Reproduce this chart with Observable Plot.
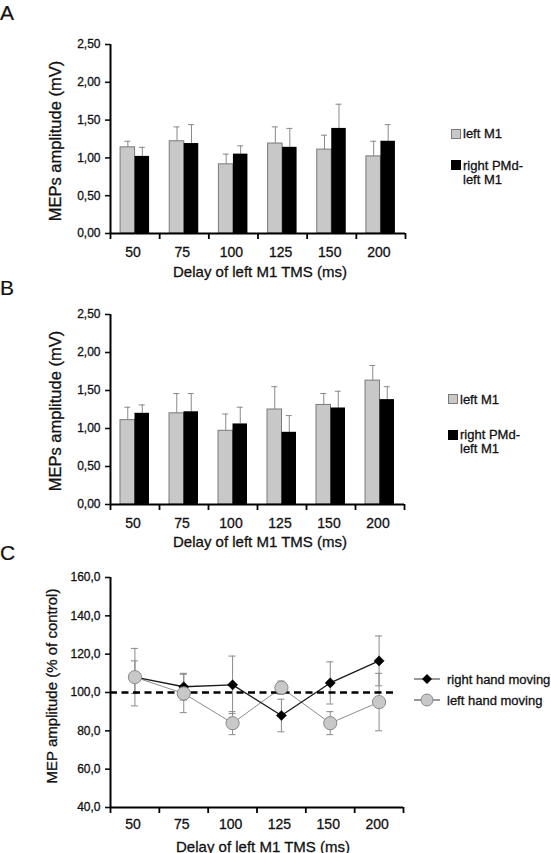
<!DOCTYPE html>
<html><head><meta charset="utf-8">
<script src="https://cdn.jsdelivr.net/npm/d3@7"></script>
<script src="https://cdn.jsdelivr.net/npm/@observablehq/plot@0.6"></script>
<style>
body{margin:0;background:#fff;font-family:"Liberation Sans",Arial,sans-serif;color:#111}
#fig{position:relative;width:551px;height:853px;overflow:hidden;background:#fff}
#fig svg.plot{position:absolute;left:0}
#fig svg.plot text{stroke:#111;stroke-width:0.3px}
.lbl{position:absolute;font-size:21px;line-height:21px;left:0;-webkit-text-stroke:0.2px #111}
.xt{position:absolute;font-size:15px;white-space:nowrap;transform:translate(-50%,-50%);-webkit-text-stroke:0.3px #111}
.yt{position:absolute;white-space:nowrap;transform:translate(-50%,-50%) rotate(-90deg);-webkit-text-stroke:0.3px #111}
.leg{position:absolute;font-size:13px;white-space:nowrap;transform:translateY(-50%);-webkit-text-stroke:0.3px #111}
.sw{position:absolute;box-sizing:border-box}
[aria-label="y-axis tick"] path,[aria-label="y-axis"] .tick line{stroke-width:1.6px}
</style></head><body><div id="fig"></div>
<script>
// ---- data ----
const delays = ["50", "75", "100", "125", "150", "200"];
const barSeries = ["left M1", "right PMd-left M1"];
const lineSeries = ["right hand moving", "left hand moving"];

// Panel A (mV)
const aLeftM1 = [1.14, 1.22, 0.915, 1.19, 1.11, 1.02];
const aLeftM1Err = [0.08, 0.19, 0.135, 0.22, 0.19, 0.20];
const aPMd = [1.02, 1.19, 1.05, 1.14, 1.39, 1.22];
const aPMdErr = [0.12, 0.25, 0.11, 0.25, 0.32, 0.22];

// Panel B (mV)
const bLeftM1 = [1.11, 1.20, 0.97, 1.25, 1.31, 1.63];
const bLeftM1Err = [0.17, 0.26, 0.22, 0.30, 0.15, 0.20];
const bPMd = [1.20, 1.22, 1.06, 0.95, 1.27, 1.38];
const bPMdErr = [0.11, 0.24, 0.22, 0.22, 0.22, 0.17];

// Panel C (% of control)
const cRight = [108, 103, 104, 88, 105, 116.5];
const cRightErr = [8.5, 7, 15, 8.5, 11, 13];
const cLeft = [108, 99.5, 84, 102.5, 84, 95];
const cLeftErr = [15, 10, 6, 3.5, 6, 15];
const cBaseline = [100];

const yTicksAB = [0, 0.5, 1, 1.5, 2, 2.5];
const yTicksC = [40, 60, 80, 100, 120, 140, 160];
const xTitle = "Delay of left M1 TMS  (ms)";
const yTitleAB = "MEPs amplitude (mV)";
const yTitleC = "MEP amplitude (% of control)";

// ---- drawing ----
const fig = document.getElementById("fig");
const W = 551, X0 = 110;
const comma = (n) => (v) => v.toFixed(n).replace(".", ",");
const FONT = "Liberation Sans, Arial, sans-serif";

function axisMarks(bw, yMin, yMax, tickLabelDy) {
  return [
    Plot.ruleY([yMin], {stroke: "#000", strokeWidth: 2}),
    Plot.ruleX([delays[0]], {dx: -bw / 2, y1: yMin, y2: yMax, stroke: "#000", strokeWidth: 2}),
    Plot.ruleX(delays, {dx: -bw / 2, y1: yMin, y2: yMin, insetTop: 6, stroke: "#000", strokeWidth: 1.8}),
    Plot.ruleX([delays[delays.length - 1]], {dx: bw / 2, y1: yMin, y2: yMin, insetTop: 6, stroke: "#000", strokeWidth: 1.8}),
    Plot.text(delays, {x: (d) => d, y: yMin, dy: tickLabelDy, dx: -2, text: (d) => d, fontSize: 14, fill: "#111"})
  ];
}

function barPanel(top, height, mTop, mBottom, xEnd, gray, grayErr, black, blackErr) {
  const rows = delays.map((d, i) => ({delay: d, g: gray[i], ge: grayErr[i], b: black[i], be: blackErr[i]}));
  const bw = (xEnd - X0) / delays.length;
  const barW = 14.5, half = bw / 2, cap = 3;
  const svg = Plot.plot({
    width: W, height, marginLeft: X0, marginRight: W - xEnd, marginTop: mTop, marginBottom: mBottom,
    style: {fontFamily: FONT, fontSize: "12px", color: "#111", background: "transparent"},
    x: {domain: delays, padding: 0, round: false, axis: null},
    y: {domain: [0, 2.5], ticks: yTicksAB, tickFormat: comma(2), tickSize: 5, tickPadding: 5, label: null},
    marks: [
      Plot.ruleX(rows, {x: "delay", dx: -barW / 2, y1: "g", y2: (d) => d.g + d.ge, stroke: "#8a8a8a"}),
      Plot.tickY(rows, {x: "delay", y: (d) => d.g + d.ge, dx: -barW / 2, insetLeft: half - cap, insetRight: half - cap, stroke: "#8a8a8a"}),
      Plot.ruleX(rows, {x: "delay", dx: barW / 2, y1: "b", y2: (d) => d.b + d.be, stroke: "#8a8a8a"}),
      Plot.tickY(rows, {x: "delay", y: (d) => d.b + d.be, dx: barW / 2, insetLeft: half - cap, insetRight: half - cap, stroke: "#8a8a8a"}),
      Plot.barY(rows, {x: "delay", y: "g", fill: "#c8c8c8", stroke: "#7a7a7a", strokeWidth: 1, insetLeft: half - barW, insetRight: half}),
      Plot.barY(rows, {x: "delay", y: "b", fill: "#000", insetLeft: half, insetRight: half - barW}),
      ...axisMarks(bw, 0, 2.5, 19)
    ]
  });
  svg.classList.add("plot");
  svg.style.top = top + "px";
  fig.appendChild(svg);
}

function addDiv(cls, text, styles) {
  const el = document.createElement("div");
  el.className = cls;
  if (text != null) el.textContent = text;
  Object.assign(el.style, styles);
  fig.appendChild(el);
  return el;
}

// Panel A
barPanel(0, 285, 44, 52, 405, aLeftM1, aLeftM1Err, aPMd, aPMdErr);
// Panel B
barPanel(285, 275, 29, 56, 404, bLeftM1, bLeftM1Err, bPMd, bPMdErr);

// Panel C
(function () {
  const xEnd = 403, top = 560, height = 293;
  const bw = (xEnd - X0) / delays.length;
  const half = bw / 2, cap = 3.5;
  const right = delays.map((d, i) => ({delay: d, v: cRight[i], e: cRightErr[i]}));
  const left = delays.map((d, i) => ({delay: d, v: cLeft[i], e: cLeftErr[i]}));
  const errMarks = (rows) => [
    Plot.ruleX(rows, {x: "delay", y1: (d) => d.v - d.e, y2: (d) => d.v + d.e, stroke: "#8a8a8a"}),
    Plot.tickY(rows, {x: "delay", y: (d) => d.v + d.e, insetLeft: half - cap, insetRight: half - cap, stroke: "#8a8a8a"}),
    Plot.tickY(rows, {x: "delay", y: (d) => d.v - d.e, insetLeft: half - cap, insetRight: half - cap, stroke: "#8a8a8a"})
  ];
  const diamond = d3.symbolDiamond2 || "diamond";
  const svg = Plot.plot({
    width: W, height, marginLeft: X0, marginRight: W - xEnd, marginTop: 17, marginBottom: 46,
    style: {fontFamily: FONT, fontSize: "12px", color: "#111", background: "transparent"},
    x: {domain: delays, padding: 0, round: false, axis: null},
    y: {domain: [40, 160], ticks: yTicksC, tickFormat: comma(1), tickSize: 5, tickPadding: 5, label: null},
    marks: [
      ...errMarks(right),
      ...errMarks(left),
      Plot.line(left, {x: "delay", y: "v", stroke: "#8c8c8c", strokeWidth: 1}),
      Plot.line(right, {x: "delay", y: "v", stroke: "#1a1a1a", strokeWidth: 1.3}),
      Plot.ruleY(cBaseline, {stroke: "#000", strokeWidth: 2.6, strokeDasharray: "7,4.5", insetRight: 8}),
      Plot.dot(right, {x: "delay", y: "v", symbol: diamond, r: 4.6, fill: "#000", stroke: "#000", strokeWidth: 0.5}),
      Plot.dot(left, {x: "delay", y: "v", symbol: "circle", r: 6.6, fill: "#c8c8c8", stroke: "#8a8a8a", strokeWidth: 1}),
      ...axisMarks(bw, 40, 160, 17)
    ]
  });
  svg.classList.add("plot");
  svg.style.top = top + "px";
  fig.appendChild(svg);
})();

// panel letters
addDiv("lbl", "A", {top: "2px"});
addDiv("lbl", "B", {top: "277px"});
addDiv("lbl", "C", {top: "542px"});

// axis titles
addDiv("xt", xTitle, {left: "260px", top: "271px"});
addDiv("xt", xTitle, {left: "260px", top: "541px"});
addDiv("xt", xTitle, {left: "263px", top: "846px"});
addDiv("yt", yTitleAB, {left: "55px", top: "141px", fontSize: "16.5px"});
addDiv("yt", yTitleAB, {left: "55px", top: "411px", fontSize: "16.5px"});
addDiv("yt", yTitleC, {left: "51px", top: "686px", fontSize: "15px"});

// bar legends
function barLegend(x, yGray, yBlack, yBlack2) {
  addDiv("sw", null, {left: x + "px", top: (yGray - 4.5) + "px", width: "10px", height: "10px", background: "#c8c8c8", border: "1px solid #7a7a7a"});
  addDiv("leg", barSeries[0], {left: (x + 12) + "px", top: yGray + "px"});
  addDiv("sw", null, {left: x + "px", top: (yBlack - 4.5) + "px", width: "10px", height: "10px", background: "#000"});
  addDiv("leg", "right PMd-", {left: (x + 12) + "px", top: yBlack + "px"});
  addDiv("leg", "left M1", {left: (x + 12) + "px", top: yBlack2 + "px"});
}
barLegend(451, 133, 164.5, 179);
barLegend(448, 398.5, 434, 448);

// line legend
function lineLegend(y, label, isDiamond) {
  const ns = "http://www.w3.org/2000/svg";
  const s = document.createElementNS(ns, "svg");
  s.setAttribute("width", 30); s.setAttribute("height", 16);
  Object.assign(s.style, {position: "absolute", left: "412px", top: (y - 8) + "px"});
  const l = document.createElementNS(ns, "line");
  l.setAttribute("x1", 2); l.setAttribute("x2", 28); l.setAttribute("y1", 8); l.setAttribute("y2", 8);
  l.setAttribute("stroke", "#333"); l.setAttribute("stroke-width", 1);
  s.appendChild(l);
  const p = document.createElementNS(ns, "path");
  if (isDiamond) {
    p.setAttribute("d", "M15,3L20,8L15,13L10,8Z");
    p.setAttribute("fill", "#000");
  } else {
    p.setAttribute("d", "M21,8A6,6 0 1,1 9,8A6,6 0 1,1 21,8Z");
    p.setAttribute("fill", "#c8c8c8"); p.setAttribute("stroke", "#8a8a8a");
  }
  s.appendChild(p);
  fig.appendChild(s);
  addDiv("leg", label, {left: "447px", top: y + "px"});
}
lineLegend(678.5, lineSeries[0], true);
lineLegend(700, lineSeries[1], false);
</script></body></html>
